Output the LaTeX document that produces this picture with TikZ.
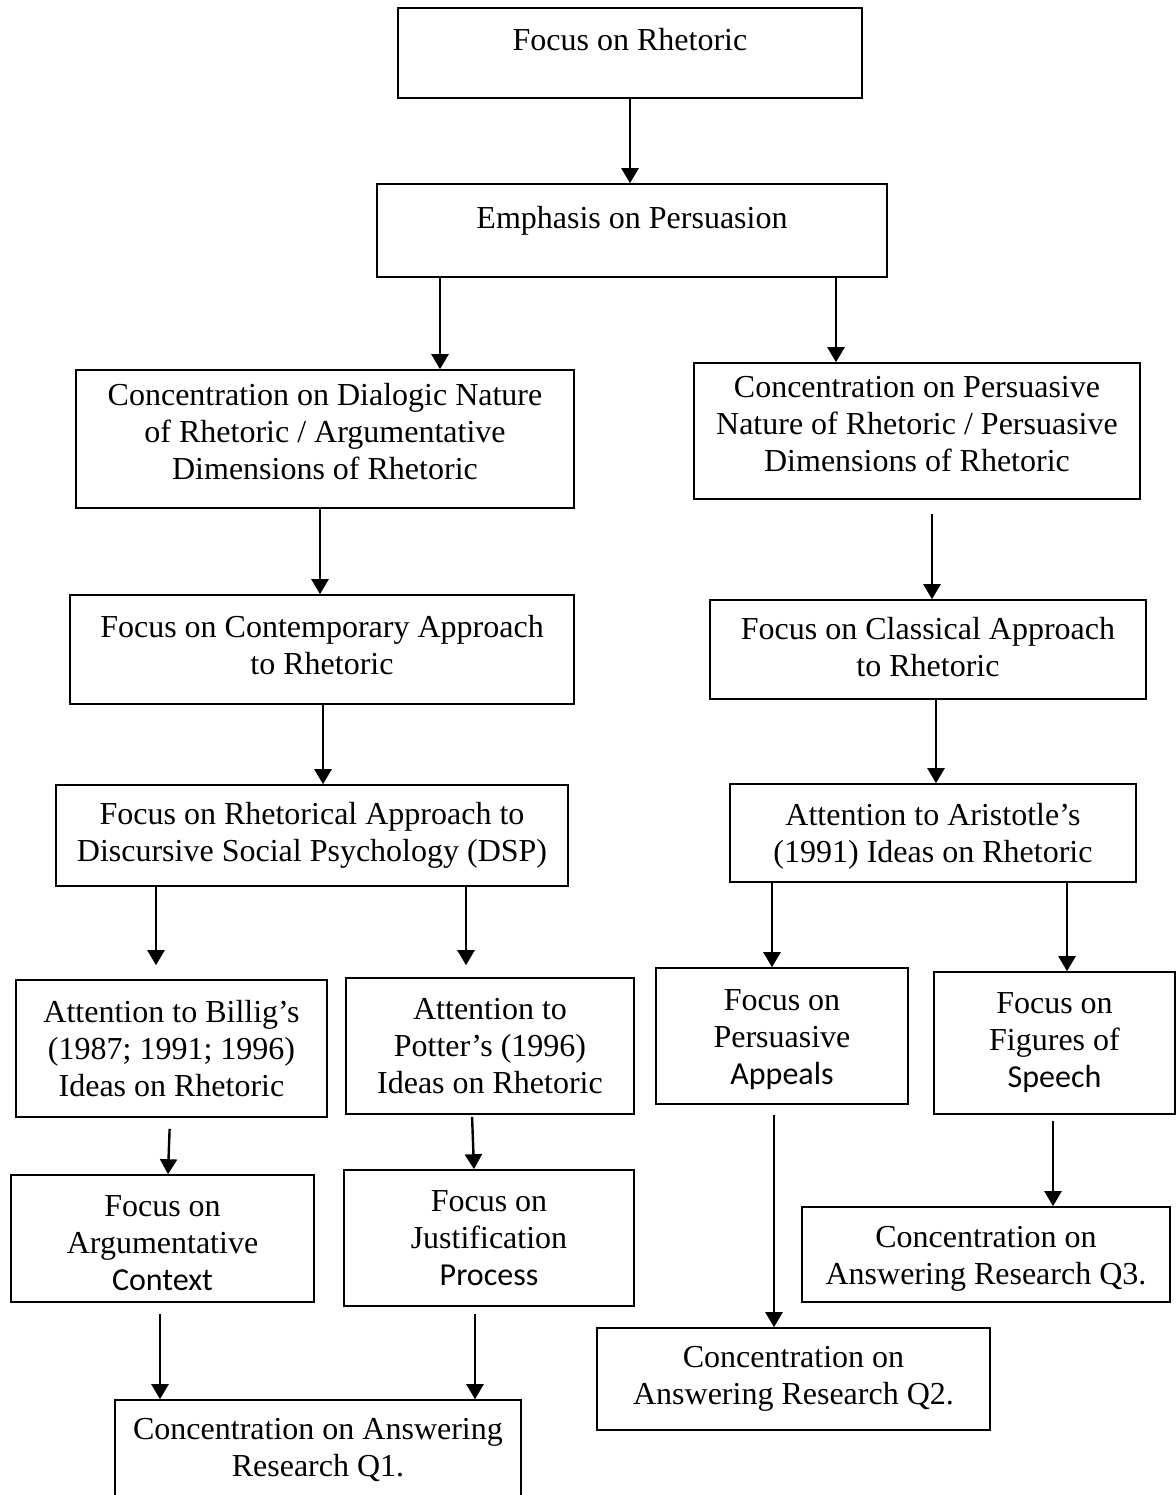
\documentclass[tikz,border=0pt]{standalone}
\usepackage{fontspec}
\setmainfont{Liberation Serif}
\newfontfamily\calib{Carlito}
\usetikzlibrary{arrows.meta}

\begin{document}
\begin{tikzpicture}[x=0.5pt, y=-0.5pt, every node/.style={font=\fontsize{16}{18.5}\selectfont}]
  % -----------------------------
  % STYLES
  % -----------------------------
  \tikzset{
    box/.style={draw, line width=0.8pt, align=center, inner sep=2pt},
    arr/.style={-{Triangle[length=7.5pt, width=8.5pt]}, line width=1.2pt},
  }
  % struts to nudge the text up (extra depth) or down (extra height)
  \def\liftby#1{\rule[-#1]{0pt}{#1}}
  \def\dropby#1{\rule{0pt}{#1}}

  % page size (pixels of the reference)
  \useasboundingbox (0,0) rectangle (1176,1495);

  % -----------------------------
  % TOP
  % -----------------------------
  \node[box, minimum width=232pt, minimum height=45pt, text depth=14pt] (rhet) at (630,53) {Focus on Rhetoric};
  \node[box, minimum width=255pt, minimum height=46.5pt, text depth=13.5pt] (pers) at (632,230.5) {Emphasis on Persuasion};

  % -----------------------------
  % LEFT BRANCH
  % -----------------------------
  \node[box, minimum width=249pt, minimum height=69pt] (dial) at (325,439)
    {Concentration on Dialogic Nature\\of Rhetoric / Argumentative\\Dimensions of Rhetoric\liftby{8pt}};
  \node[box, minimum width=252pt, minimum height=54.5pt] (cont) at (322,649.5)
    {Focus on Contemporary Approach\\to Rhetoric\liftby{5pt}};
  \node[box, minimum width=256pt, minimum height=50.5pt] (dsp) at (312,835.5)
    {Focus on Rhetorical Approach to\\Discursive Social Psychology (DSP)};
  \node[box, minimum width=155.5pt, minimum height=68.5pt] (billig) at (171.5,1048.5)
    {Attention to Billig’s\\(1987; 1991; 1996)\\Ideas on Rhetoric};
  \node[box, minimum width=144pt, minimum height=68pt] (potter) at (490,1046)
    {Attention to\\Potter’s (1996)\\Ideas on Rhetoric};
  \node[box, minimum width=151.5pt, minimum height=63.5pt] (argctx) at (162.5,1238.5)
    {\dropby{15pt}Focus on\\Argumentative\\{\calib Context}};
  \node[box, minimum width=145pt, minimum height=68pt] (justif) at (489,1238)
    {Focus on\\Justification\\{\calib Process}};
  \node[box, minimum width=203pt, minimum height=50pt] (qone) at (318,1450)
    {Concentration on Answering\\Research Q1.};

  % -----------------------------
  % RIGHT BRANCH
  % -----------------------------
  \node[box, minimum width=223pt, minimum height=68pt] (psn) at (917,431)
    {Concentration on Persuasive\\Nature of Rhetoric / Persuasive\\Dimensions of Rhetoric\liftby{7pt}};
  \node[box, minimum width=218pt, minimum height=49.5pt] (clas) at (928,649.5)
    {Focus on Classical Approach\\to Rhetoric\liftby{3pt}};
  \node[box, minimum width=203pt, minimum height=49pt] (arist) at (933,833)
    {\dropby{14pt}Attention to Aristotle’s\\(1991) Ideas on Rhetoric};
  \node[box, minimum width=126pt, minimum height=68pt] (appeal) at (782,1036)
    {\dropby{14pt}Focus on\\Persuasive\\{\calib Appeals}};
  \node[box, minimum width=120.5pt, minimum height=71pt] (figs) at (1054.5,1043)
    {Focus on\\Figures of\\{\calib Speech}};
  \node[box, minimum width=184pt, minimum height=47.5pt] (qthree) at (986,1254.5)
    {\dropby{15pt}Concentration on\\Answering Research Q3.};
  \node[box, minimum width=196.5pt, minimum height=51pt] (qtwo) at (793.5,1379)
    {Concentration on\\Answering Research Q2.};

  % -----------------------------
  % ARROWS
  % -----------------------------
  \draw[arr] (rhet.south -| 630,0) -- (pers.north -| 630,0);
  \draw[arr] (pers.south -| 440,0) -- (dial.north -| 440,0);
  \draw[arr] (pers.south -| 836,0) -- (psn.north -| 836,0);

  \draw[arr] (dial.south -| 320,0) -- (cont.north -| 320,0);
  \draw[arr] (cont.south -| 323,0) -- (dsp.north -| 323,0);
  \draw[arr, shorten >=7pt] (dsp.south -| 156,0) -- (billig.north -| 156,0);
  \draw[arr, shorten >=6pt] (dsp.south -| 466,0) -- (potter.north -| 466,0);
  \draw[arr, shorten <=5.5pt] (billig.south -| 170,0) -- (argctx.north -| 168,0);
  \draw[arr, shorten <=1pt] (potter.south -| 472,0) -- (justif.north -| 474,0);
  \draw[arr, shorten <=5.5pt] (argctx.south -| 160,0) -- (qone.north -| 160,0);
  \draw[arr, shorten <=3.5pt] (justif.south -| 475,0) -- (qone.north -| 475,0);

  \draw[arr, shorten <=7pt] (psn.south -| 932,0) -- (clas.north -| 932,0);
  \draw[arr] (clas.south -| 936,0) -- (arist.north -| 936,0);
  \draw[arr] (arist.south -| 772,0) -- (appeal.north -| 772,0);
  \draw[arr] (arist.south -| 1067,0) -- (figs.north -| 1067,0);
  \draw[arr, shorten <=5pt] (appeal.south -| 774,0) -- (qtwo.north -| 774,0);
  \draw[arr, shorten <=3pt] (figs.south -| 1053,0) -- (qthree.north -| 1053,0);
\end{tikzpicture}
\end{document}
